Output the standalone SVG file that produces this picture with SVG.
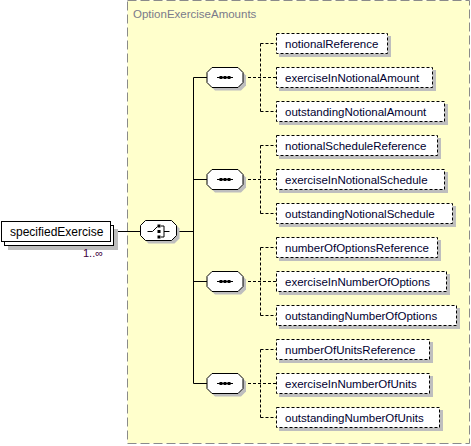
<svg xmlns="http://www.w3.org/2000/svg" width="471" height="446" viewBox="0 0 471 446">
<style>
.grp{fill:#FFFFCC;stroke:#8a8a8a;stroke-width:1;stroke-dasharray:9,4}
.title{font-family:"Liberation Sans",Arial,sans-serif;font-size:11.5px;fill:#7a7a8a}
.lbl{font-family:"Liberation Sans",Arial,sans-serif;font-size:11.5px;fill:#000030}
.shadow{fill:#BEBEBE}
.opt{fill:#fff;stroke:#000;stroke-width:1;stroke-dasharray:3,2}
.solid{fill:#fff;stroke:#000;stroke-width:1}
.line{stroke:#000;stroke-width:1;fill:none}
.dash{stroke:#000;stroke-width:1;fill:none;stroke-dasharray:3,2}
.card{font-family:"Liberation Sans",Arial,sans-serif;font-size:11px;fill:#400040}
</style>
<defs>
<path id="oct" d="M-13,-10 H13 L18,-5 V5 L13,10 H-13 L-18,5 V-5 Z"/>
<g id="seqIcon">
<use href="#oct" x="3" y="3" class="shadow"/>
<use href="#oct" class="solid"/>
<line x1="-8" y1="0" x2="8" y2="0" class="line"/>
<rect x="-5.5" y="-1.5" width="3" height="3" fill="#000"/>
<rect x="-1.5" y="-1.5" width="3" height="3" fill="#000"/>
<rect x="2.5" y="-1.5" width="3" height="3" fill="#000"/>
</g>
</defs>
<rect class="grp" x="127.5" y="0.5" width="342" height="443"/>
<text class="title" x="133" y="18">OptionExerciseAmounts</text>

<g id="connectors">
<line x1="111" y1="231.5" x2="141" y2="231.5" class="line"/>
<line x1="176" y1="231.5" x2="193.5" y2="231.5" class="line"/>
<line x1="193.5" y1="77.5" x2="193.5" y2="383.5" class="line"/>
<line x1="193.5" y1="77.5" x2="207" y2="77.5" class="line"/>
<line x1="193.5" y1="179.5" x2="207" y2="179.5" class="line"/>
<line x1="193.5" y1="281.5" x2="207" y2="281.5" class="line"/>
<line x1="193.5" y1="383.5" x2="207" y2="383.5" class="line"/>
<path class="dash" d="M243,77.5 H276 M260.5,43.5 V111.5 M260.5,43.5 H276 M260.5,111.5 H276"/>
<path class="dash" d="M243,179.5 H276 M260.5,145.5 V213.5 M260.5,145.5 H276 M260.5,213.5 H276"/>
<path class="dash" d="M243,281.5 H276 M260.5,247.5 V315.5 M260.5,247.5 H276 M260.5,315.5 H276"/>
<path class="dash" d="M243,383.5 H276 M260.5,349.5 V417.5 M260.5,349.5 H276 M260.5,417.5 H276"/>
</g>

<g id="specifiedExercise">
<rect class="shadow" x="8" y="229" width="110" height="21"/>
<rect class="solid" x="4.5" y="225.5" width="109" height="20"/>
<rect class="solid" x="1.5" y="221.5" width="109" height="20"/>
<text class="lbl" x="10" y="236" style="fill:#000;font-size:12px">specifiedExercise</text>
<text class="card" x="83" y="257">1..∞</text>
</g>

<g id="choice" transform="translate(158.5,230.5)">
<use href="#oct" x="3" y="3" class="shadow"/>
<use href="#oct" class="solid"/>
<path class="line" d="M-11,1 H-6 L-1,-4"/>
<rect x="-1" y="-6" width="3" height="3" fill="#000"/>
<rect x="-1" y="-0.5" width="3" height="3" fill="#000"/>
<rect x="-1" y="5" width="3" height="3" fill="#000"/>
<path class="line" d="M2.5,-4.5 H5.5 V6.5 H2.5 M5.5,1 H11"/>
</g>

<g id="seq1" transform="translate(225,77.5)"><use href="#seqIcon"/></g>
<g id="seq2" transform="translate(225,179.5)"><use href="#seqIcon"/></g>
<g id="seq3" transform="translate(225,281.5)"><use href="#seqIcon"/></g>
<g id="seq4" transform="translate(225,383.5)"><use href="#seqIcon"/></g>

<g id="notionalReference"><rect class="shadow" x="279" y="36" width="112" height="21"/><rect class="opt" x="276.5" y="33.5" width="111" height="20"/><text class="lbl" x="285" y="48">notionalReference</text></g>
<g id="exerciseInNotionalAmount"><rect class="shadow" x="279" y="70" width="157" height="21"/><rect class="opt" x="276.5" y="67.5" width="156" height="20"/><text class="lbl" x="285" y="82">exerciseInNotionalAmount</text></g>
<g id="outstandingNotionalAmount"><rect class="shadow" x="279" y="104" width="169" height="21"/><rect class="opt" x="276.5" y="101.5" width="168" height="20"/><text class="lbl" x="285" y="116">outstandingNotionalAmount</text></g>

<g id="notionalScheduleReference"><rect class="shadow" x="279" y="138" width="162" height="21"/><rect class="opt" x="276.5" y="135.5" width="161" height="20"/><text class="lbl" x="285" y="150">notionalScheduleReference</text></g>
<g id="exerciseInNotionalSchedule"><rect class="shadow" x="279" y="172" width="169" height="21"/><rect class="opt" x="276.5" y="169.5" width="168" height="20"/><text class="lbl" x="285" y="184">exerciseInNotionalSchedule</text></g>
<g id="outstandingNotionalSchedule"><rect class="shadow" x="279" y="206" width="177" height="21"/><rect class="opt" x="276.5" y="203.5" width="176" height="20"/><text class="lbl" x="285" y="218">outstandingNotionalSchedule</text></g>

<g id="numberOfOptionsReference"><rect class="shadow" x="279" y="240" width="162" height="21"/><rect class="opt" x="276.5" y="237.5" width="161" height="20"/><text class="lbl" x="285" y="252">numberOfOptionsReference</text></g>
<g id="exerciseInNumberOfOptions"><rect class="shadow" x="279" y="274" width="171" height="21"/><rect class="opt" x="276.5" y="271.5" width="170" height="20"/><text class="lbl" x="285" y="286">exerciseInNumberOfOptions</text></g>
<g id="outstandingNumberOfOptions"><rect class="shadow" x="279" y="308" width="181" height="21"/><rect class="opt" x="276.5" y="305.5" width="180" height="20"/><text class="lbl" x="285" y="320">outstandingNumberOfOptions</text></g>

<g id="numberOfUnitsReference"><rect class="shadow" x="279" y="342" width="154" height="21"/><rect class="opt" x="276.5" y="339.5" width="153" height="20"/><text class="lbl" x="285" y="354">numberOfUnitsReference</text></g>
<g id="exerciseInNumberOfUnits"><rect class="shadow" x="279" y="376" width="154" height="21"/><rect class="opt" x="276.5" y="373.5" width="153" height="20"/><text class="lbl" x="285" y="388">exerciseInNumberOfUnits</text></g>
<g id="outstandingNumberOfUnits"><rect class="shadow" x="279" y="410" width="164" height="21"/><rect class="opt" x="276.5" y="407.5" width="163" height="20"/><text class="lbl" x="285" y="422">outstandingNumberOfUnits</text></g>
</svg>
